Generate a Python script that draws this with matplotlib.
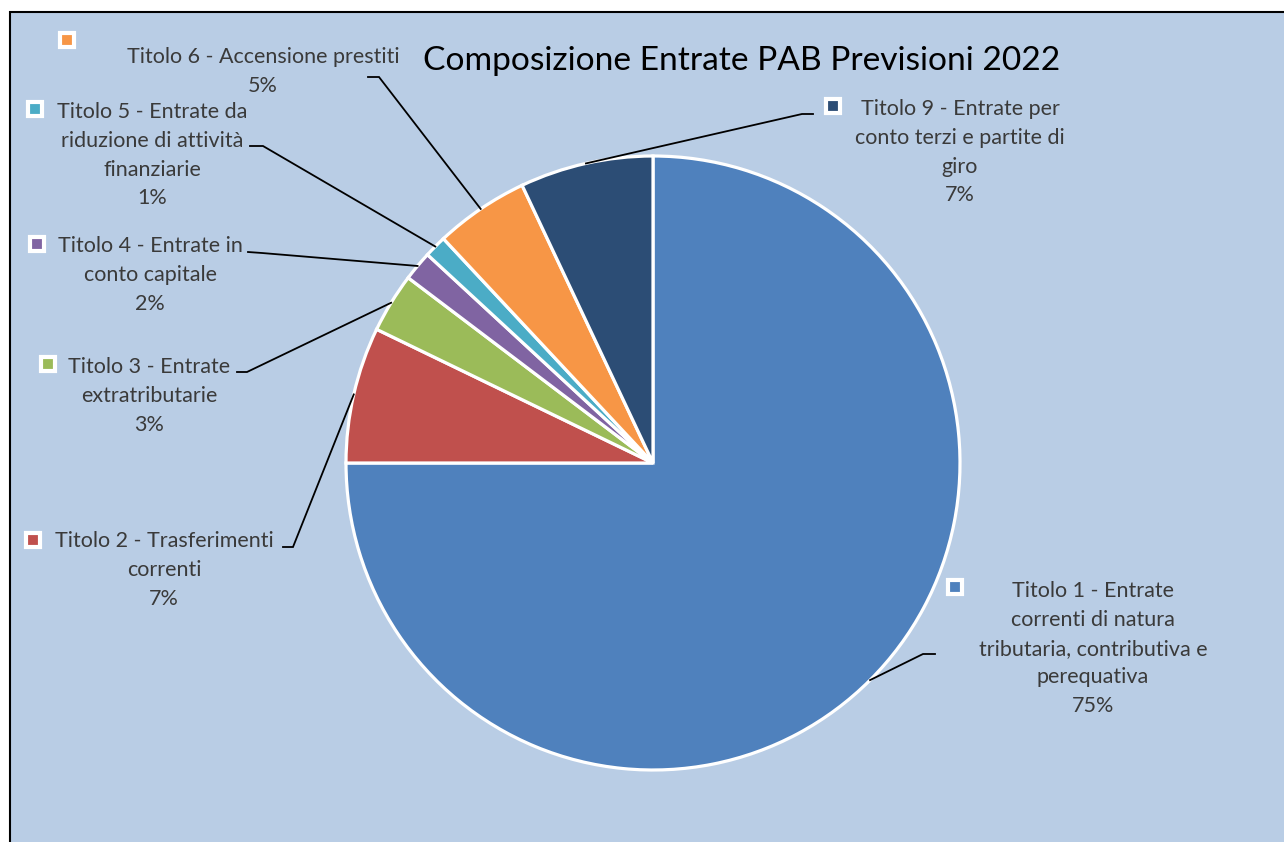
import matplotlib
matplotlib.use('Agg')
import numpy as np
from matplotlib import pyplot as plt
from matplotlib.patches import Rectangle

plt.rcParams['font.family'] = ['Lato', 'DejaVu Sans']

# quote per titolo di entrata (percentuale sul totale)
titoli = ['Titolo 1 - Entrate correnti di natura tributaria, contributiva e perequativa',
          'Titolo 2 - Trasferimenti correnti',
          'Titolo 3 - Entrate extratributarie',
          'Titolo 4 - Entrate in conto capitale',
          'Titolo 5 - Entrate da riduzione di attività finanziarie',
          'Titolo 6 - Accensione prestiti',
          'Titolo 9 - Entrate per conto terzi e partite di giro']
quote = [75.0, 7.17, 3.14, 1.56, 1.17, 4.95, 7.01]
colori = ['#4F81BD', '#C0504D', '#9BBB59', '#8064A2', '#4BACC6', '#F79646', '#2C4D75']

# righe delle etichette, come vanno a capo nel grafico
righe = [['Titolo 1 - Entrate', 'correnti di natura', 'tributaria, contributiva e', 'perequativa'],
         ['Titolo 2 - Trasferimenti', 'correnti'],
         ['Titolo 3 - Entrate', 'extratributarie'],
         ['Titolo 4 - Entrate in', 'conto capitale'],
         ['Titolo 5 - Entrate da', 'riduzione di attività', 'finanziarie'],
         ['Titolo 6 - Accensione prestiti'],
         ['Titolo 9 - Entrate per', 'conto terzi e partite di', 'giro']]

titolo_grafico = 'Composizione Entrate PAB Previsioni 2022'

# posizioni in pixel (origine in alto a sinistra)
W, H = 1284, 842
centro = (653, 463)
raggio = 307
# centro x del testo, baseline prima riga
pos_testo = [(1093, 597), (164, 547), (149, 373), (150, 252), (152, 118), (263, 63), (960, 115)]
pos_chiave = [(955, 587), (33, 540), (48, 364), (37, 244), (35, 109), (67, 40), (833, 106)]
# gomito e fine della linea guida
gomiti = [((923, 654), (935, 654)), ((293, 547), (283, 547)), ((247, 372), (237, 372)),
          ((262, 253), (248, 252)), ((263, 146), (250, 146)), ((379, 77), (368, 77)),
          ((802, 114), (813, 114))]

interlinea = 28.8
grigio = '#404040'

fig = plt.figure(figsize=(W / 100, H / 100), dpi=100, facecolor='white')
ax = fig.add_axes([0, 0, 1, 1])
ax.set_xlim(0, W)
ax.set_ylim(H, 0)  # asse y invertito: coordinate come sullo schermo
ax.axis('off')

ax.add_patch(Rectangle((10, 12), W + 20, H + 20, facecolor='#B9CDE5',
                       edgecolor='black', linewidth=1.5, zorder=0))

# con y invertito il verso antiorario diventa orario sullo schermo
wedges, _ = ax.pie(quote, colors=colori, startangle=-90, counterclock=True,
                   center=centro, radius=raggio, frame=True,
                   wedgeprops=dict(edgecolor='white', linewidth=2.3))
ax.set_xlim(0, W)
ax.set_ylim(H, 0)
ax.axis('off')

for i, w in enumerate(wedges):
    ang = np.deg2rad((w.theta1 + w.theta2) / 2)
    x0 = w.center[0] + w.r * np.cos(ang)
    y0 = w.center[1] + w.r * np.sin(ang)
    (gx, gy), (fx, fy) = gomiti[i]
    ax.plot([x0, gx, fx], [y0, gy, fy], color='black', lw=1.3, zorder=3,
            solid_joinstyle='miter')

    tx, ty = pos_testo[i]
    testo = righe[i] + ['{:.0f}%'.format(quote[i])]
    for k, riga in enumerate(testo):
        ax.text(tx, ty + k * interlinea, riga, ha='center', va='baseline',
                fontsize=15.5, color='#3a3a3a', zorder=4)

    kx, ky = pos_chiave[i]
    ax.plot(kx, ky, marker='s', markersize=9.8, markerfacecolor=colori[i],
            markeredgecolor='white', markeredgewidth=3.0, zorder=4)

ax.text(742, 70, titolo_grafico, ha='center', va='baseline', fontsize=24.1,
        color='black', zorder=4)

fig.savefig('out.png', dpi=100, facecolor='white')
